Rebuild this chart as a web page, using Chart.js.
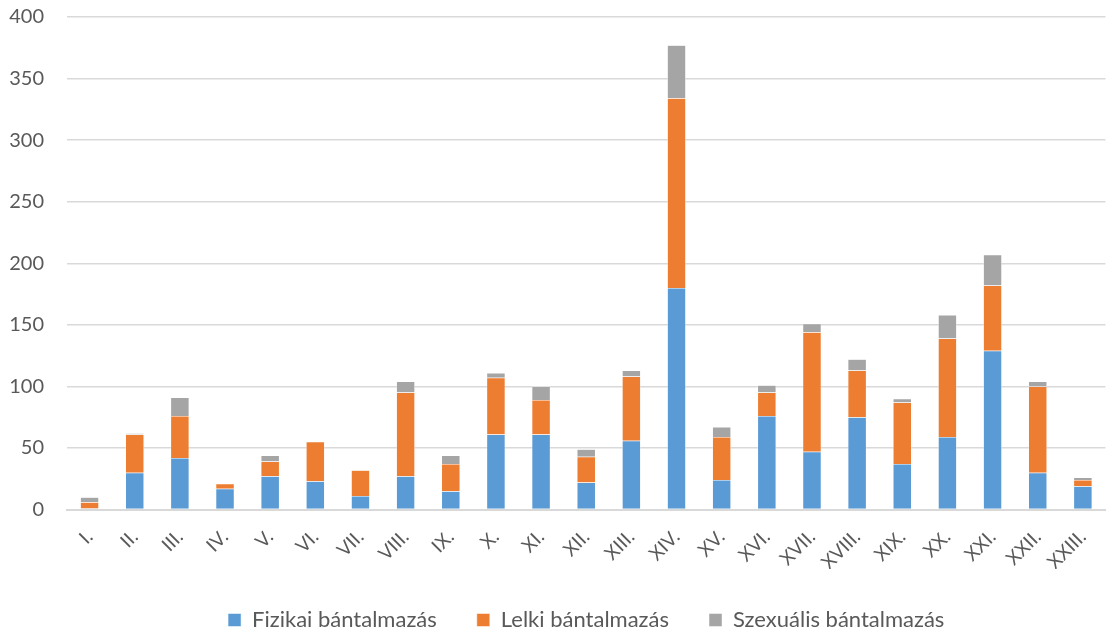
<!DOCTYPE html>
<html>
<head>
<meta charset="utf-8">
<script src="https://cdn.jsdelivr.net/npm/chart.js@4"></script>
<style>
  html, body { margin: 0; padding: 0; background: #fff; }
  #wrap { width: 1107px; height: 634px; }
</style>
</head>
<body>
<div id="wrap"><canvas id="chart"></canvas></div>
<script>
const categories = ['I.', 'II.', 'III.', 'IV.', 'V.', 'VI.', 'VII.', 'VIII.', 'IX.', 'X.', 'XI.', 'XII.',
  'XIII.', 'XIV.', 'XV.', 'XVI.', 'XVII.', 'XVIII.', 'XIX.', 'XX.', 'XXI.', 'XXII.', 'XXIII.'];
const fizikai = [1, 30, 42, 17, 27, 23, 11, 27, 15, 61, 61, 22, 56, 180, 24, 76, 47, 75, 37, 59, 129, 30, 19];
const lelki = [5, 31, 34, 4, 12, 32, 21, 68, 22, 46, 28, 21, 52, 154, 35, 19, 97, 38, 50, 80, 53, 70, 5];
const szexualis = [4, 1, 15, 0, 5, 0, 0, 9, 7, 4, 11, 6, 5, 43, 8, 6, 7, 9, 3, 19, 25, 4, 2];
const seriesNames = ['Fizikai bántalmazás', 'Lelki bántalmazás', 'Szexuális bántalmazás'];
const yTicks = { min: 0, max: 400, step: 50 };

const font = 'Lato, "Open Sans", sans-serif';

document.addEventListener('DOMContentLoaded', function () {
  const ctx = document.getElementById('chart').getContext('2d');
  const ds = (label, data, color) => ({
    label: label,
    data: data,
    backgroundColor: color,
    borderColor: '#ffffff',
    borderWidth: 0.5,
    barPercentage: 0.41,
    categoryPercentage: 1.0
  });
  new Chart(ctx, {
    type: 'bar',
    data: {
      labels: categories,
      datasets: [
        ds(seriesNames[0], fizikai, '#5b9bd5'),
        ds(seriesNames[1], lelki, '#ed7d31'),
        ds(seriesNames[2], szexualis, '#a5a5a5')
      ]
    },
    options: {
      responsive: true,
      maintainAspectRatio: false,
      animation: false,
      layout: { padding: { left: 0, right: 0, top: 17, bottom: -7 } },
      plugins: {
        legend: {
          position: 'bottom',
          fullSize: false,
          labels: {
            boxWidth: 13, boxHeight: 13, padding: 40,
            color: '#595959',
            font: { family: font, size: 22 }
          }
        },
        tooltip: { enabled: false }
      },
      scales: {
        x: {
          stacked: true,
          grid: { display: false },
          border: { display: true, color: '#d9d9d9', width: 2 },
          ticks: {
            color: '#595959',
            maxRotation: 45, minRotation: 45,
            autoSkip: false,
            padding: 8,
            font: { family: font, size: 19 }
          },
          afterFit: function (scale) {
            scale.paddingLeft = 0;
            scale.height = scale.height - 13;
          }
        },
        y: {
          stacked: true,
          min: yTicks.min, max: yTicks.max,
          grid: { color: '#d9d9d9', lineWidth: 1.5, drawTicks: false },
          border: { display: false },
          ticks: {
            stepSize: yTicks.step,
            color: '#595959',
            padding: 23,
            font: { family: font, size: 20 }
          },
          afterFit: function (scale) {
            scale.width = 67;
            scale.paddingTop = 0;
            scale.paddingBottom = 0;
          }
        }
      }
    }
  });
});
</script>
</body>
</html>
